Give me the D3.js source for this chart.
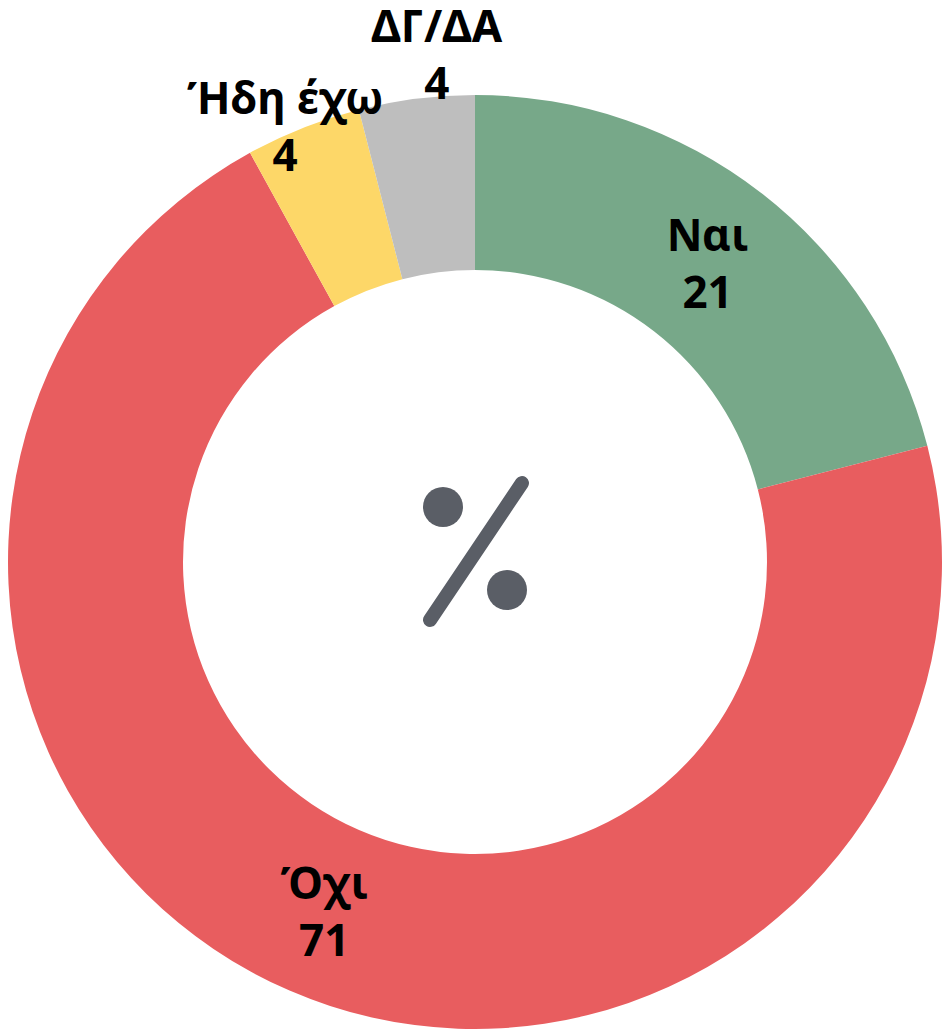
<!DOCTYPE html>
<html>
<head>
<meta charset="utf-8">
<script src="https://cdn.jsdelivr.net/npm/d3@7"></script>
<style>
  html, body { margin: 0; padding: 0; background: #fff; }
  svg { display: block; }
  .lbl { font-family: "Noto Sans", "DejaVu Sans", sans-serif; font-weight: 700; font-size: 44px; fill: #000; }
</style>
</head>
<body>
<div id="chart"></div>
<script>
const categories = ['Ναι', 'Όχι', 'Ήδη έχω', 'ΔΓ/ΔΑ'];
const values = [21, 71, 4, 4];
const colors = ['#77a889', '#e85d5f', '#fdd768', '#bebebe'];

const width = 949, height = 1030;
const cx = 475, cy = 562;
const outerR = 467, innerR = 292;

// small slices get their label pushed outside the ring: [radius, angle nudge in degrees]
const outside = {'Ήδη έχω': [476, -1.9], 'ΔΓ/ΔΑ': [510, 2.9]};

const data = categories.map((c, i) => ({cat: c, value: values[i], color: colors[i]}));

const svg = d3.select('#chart').append('svg')
  .attr('width', width)
  .attr('height', height);

const g = svg.append('g').attr('transform', `translate(${cx},${cy})`);

const pie = d3.pie().sort(null).value(d => d.value);
const arc = d3.arc().innerRadius(innerR).outerRadius(outerR);

const arcs = pie(data);

g.selectAll('path.slice')
  .data(arcs)
  .enter()
  .append('path')
  .attr('class', 'slice')
  .attr('d', arc)
  .style('fill', d => d.data.color);

const labelPos = d => {
  let o = outside[d.data.cat];
  if (!o) return arc.centroid(d);
  let a = (d.startAngle + d.endAngle) / 2 + o[1] * Math.PI / 180;
  return [o[0] * Math.sin(a), -o[0] * Math.cos(a)];
};

const labels = g.selectAll('text.lbl')
  .data(arcs)
  .enter()
  .append('text')
  .attr('class', 'lbl')
  .attr('text-anchor', 'middle')
  .attr('transform', d => `translate(${labelPos(d)})`);

labels.append('tspan')
  .attr('x', 0)
  .attr('y', -11)
  .text(d => d.data.cat);

labels.append('tspan')
  .attr('x', 0)
  .attr('y', 46)
  .text(d => d.data.value);

// percent icon in the hole
const icon = g.append('g').attr('transform', 'translate(0,-10)').style('fill', '#5a5e66');
icon.append('line')
  .attr('x1', 47).attr('y1', -69)
  .attr('x2', -45).attr('y2', 68)
  .style('stroke', '#5a5e66')
  .style('stroke-width', 14)
  .style('stroke-linecap', 'round');
icon.append('circle').attr('cx', -32).attr('cy', -45).attr('r', 20);
icon.append('circle').attr('cx', 32).attr('cy', 38).attr('r', 20);
</script>
</body>
</html>
